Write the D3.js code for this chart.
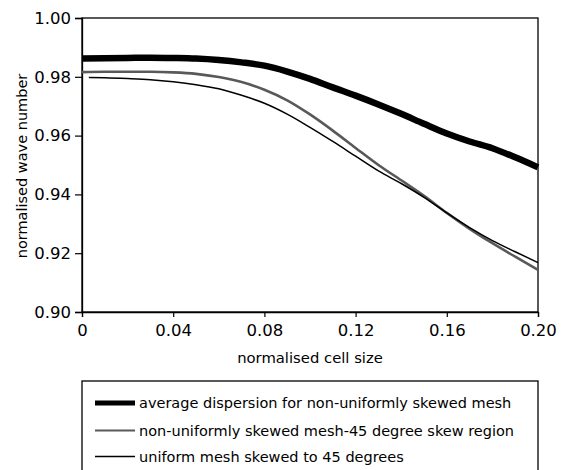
<!DOCTYPE html>
<html>
<head>
<meta charset="utf-8">
<script src="https://cdn.jsdelivr.net/npm/d3@7"></script>
<style>
  body { margin: 0; background: #fff; }
  svg text { font-family: "DejaVu Sans", sans-serif; fill: #000; }
</style>
</head>
<body>
<div id="chart"></div>
<script>
// cell size samples
var cellSize = [0, 0.01, 0.02, 0.03, 0.04, 0.05, 0.06, 0.07, 0.08, 0.09, 0.10,
                0.11, 0.12, 0.13, 0.14, 0.15, 0.16, 0.17, 0.18, 0.19, 0.20];

// average dispersion for non-uniformly skewed mesh
var averageDisp = [0.9862, 0.9863, 0.9864, 0.9865, 0.9864, 0.9862, 0.9857, 0.9849, 0.9838, 0.9818, 0.9793,
                   0.9764, 0.9736, 0.9706, 0.9674, 0.9640, 0.9607, 0.9580, 0.9557, 0.9526, 0.9492];

// non-uniformly skewed mesh, 45 degree skew region
var skewRegion = [0.9816, 0.9817, 0.9817, 0.9817, 0.9815, 0.9810, 0.9799, 0.9782, 0.9756, 0.9720, 0.9672,
                  0.9617, 0.9558, 0.9500, 0.9448, 0.9395, 0.9337, 0.9283, 0.9234, 0.9188, 0.9143];

// uniform mesh skewed to 45 degrees (starts just after 0)
var uniformX = [0.003, 0.01, 0.02, 0.03, 0.04, 0.05, 0.06, 0.07, 0.08, 0.09, 0.10,
                0.11, 0.12, 0.13, 0.14, 0.15, 0.16, 0.17, 0.18, 0.19, 0.20];
var uniformMesh = [0.9798, 0.9797, 0.9794, 0.9790, 0.9783, 0.9773, 0.9759, 0.9737, 0.9710, 0.9673, 0.9628,
                   0.9580, 0.9530, 0.9480, 0.9437, 0.9390, 0.9337, 0.9287, 0.9243, 0.9205, 0.9168];

var xTicks = [0, 0.04, 0.08, 0.12, 0.16, 0.20];
var yTicks = [0.90, 0.92, 0.94, 0.96, 0.98, 1.00];
var legendLabels = ["average dispersion for non-uniformly skewed mesh",
                    "non-uniformly skewed mesh-45 degree skew region",
                    "uniform mesh skewed to 45 degrees"];

var W = 567, H = 470;
var plot = {left: 82, right: 538, top: 18, bottom: 312};

var svg = d3.select("#chart").append("svg")
    .attr("width", W)
    .attr("height", H);

var x = d3.scaleLinear().domain([0, 0.20]).range([plot.left, plot.right]);
var y = d3.scaleLinear().domain([0.90, 1.00]).range([plot.bottom, plot.top]);

// frame
svg.append("rect")
    .attr("x", plot.left).attr("y", plot.top)
    .attr("width", plot.right - plot.left)
    .attr("height", plot.bottom - plot.top)
    .attr("fill", "none").attr("stroke", "#000").attr("stroke-width", 1.3);

// axes
var xAxis = svg.append("g")
    .attr("transform", "translate(0," + plot.bottom + ")")
    .call(d3.axisBottom(x).tickValues(xTicks).tickSize(5).tickPadding(6)
        .tickFormat(function(d) { return d === 0 ? "0" : d3.format(".2f")(d); }));

var yAxis = svg.append("g")
    .attr("transform", "translate(" + plot.left + ",0)")
    .call(d3.axisLeft(y).tickValues(yTicks).tickSize(7).tickPadding(4)
        .tickFormat(d3.format(".2f")));

[xAxis, yAxis].forEach(function(g) {
    g.select(".domain").attr("stroke-width", 1.3);
    g.selectAll(".tick line").attr("stroke-width", 1.2);
    g.selectAll("text").style("font-size", "16.5px").attr("fill", "#000")
        .style("font-family", "DejaVu Sans, sans-serif");
});
xAxis.selectAll("text").attr("dy", "0.78em");

// axis titles
svg.append("text")
    .attr("x", (plot.left + plot.right) / 2)
    .attr("y", 363)
    .attr("text-anchor", "middle")
    .style("font-size", "14.8px")
    .text("normalised cell size");

svg.append("text")
    .attr("transform", "translate(27," + 166 + ") rotate(-90)")
    .attr("text-anchor", "middle")
    .style("font-size", "14.5px")
    .text("normalised wave number");

// series
var line = d3.line()
    .x(function(d) { return x(d[0]); })
    .y(function(d) { return y(d[1]); })
    .curve(d3.curveMonotoneX);

var series = [
    {pts: d3.zip(cellSize, averageDisp), color: "#000", width: 6.5},
    {pts: d3.zip(cellSize, skewRegion), color: "#595959", width: 2.6},
    {pts: d3.zip(uniformX, uniformMesh), color: "#000", width: 1.5}
];

svg.selectAll(".series")
    .data(series)
    .enter().append("path")
    .attr("class", "series")
    .attr("d", function(d) { return line(d.pts); })
    .attr("fill", "none")
    .attr("stroke", function(d) { return d.color; })
    .attr("stroke-width", function(d) { return d.width; });

// legend
var legTop = 381;
svg.append("rect")
    .attr("x", plot.left).attr("y", legTop)
    .attr("width", plot.right - plot.left)
    .attr("height", 120)
    .attr("fill", "none").attr("stroke", "#000").attr("stroke-width", 1.3);

var legRows = [403, 430.5, 456.5];
var leg = svg.selectAll(".leg")
    .data(series)
    .enter().append("g")
    .attr("class", "leg")
    .attr("transform", function(d, i) { return "translate(0," + legRows[i] + ")"; });

leg.append("line")
    .attr("x1", 95).attr("x2", 135)
    .attr("stroke", function(d) { return d.color; })
    .attr("stroke-width", function(d, i) { return [5, 2.2, 1.5][i]; });

leg.append("text")
    .attr("x", 139)
    .attr("y", 5)
    .style("font-size", "14.5px")
    .text(function(d, i) { return legendLabels[i]; });
</script>
</body>
</html>
